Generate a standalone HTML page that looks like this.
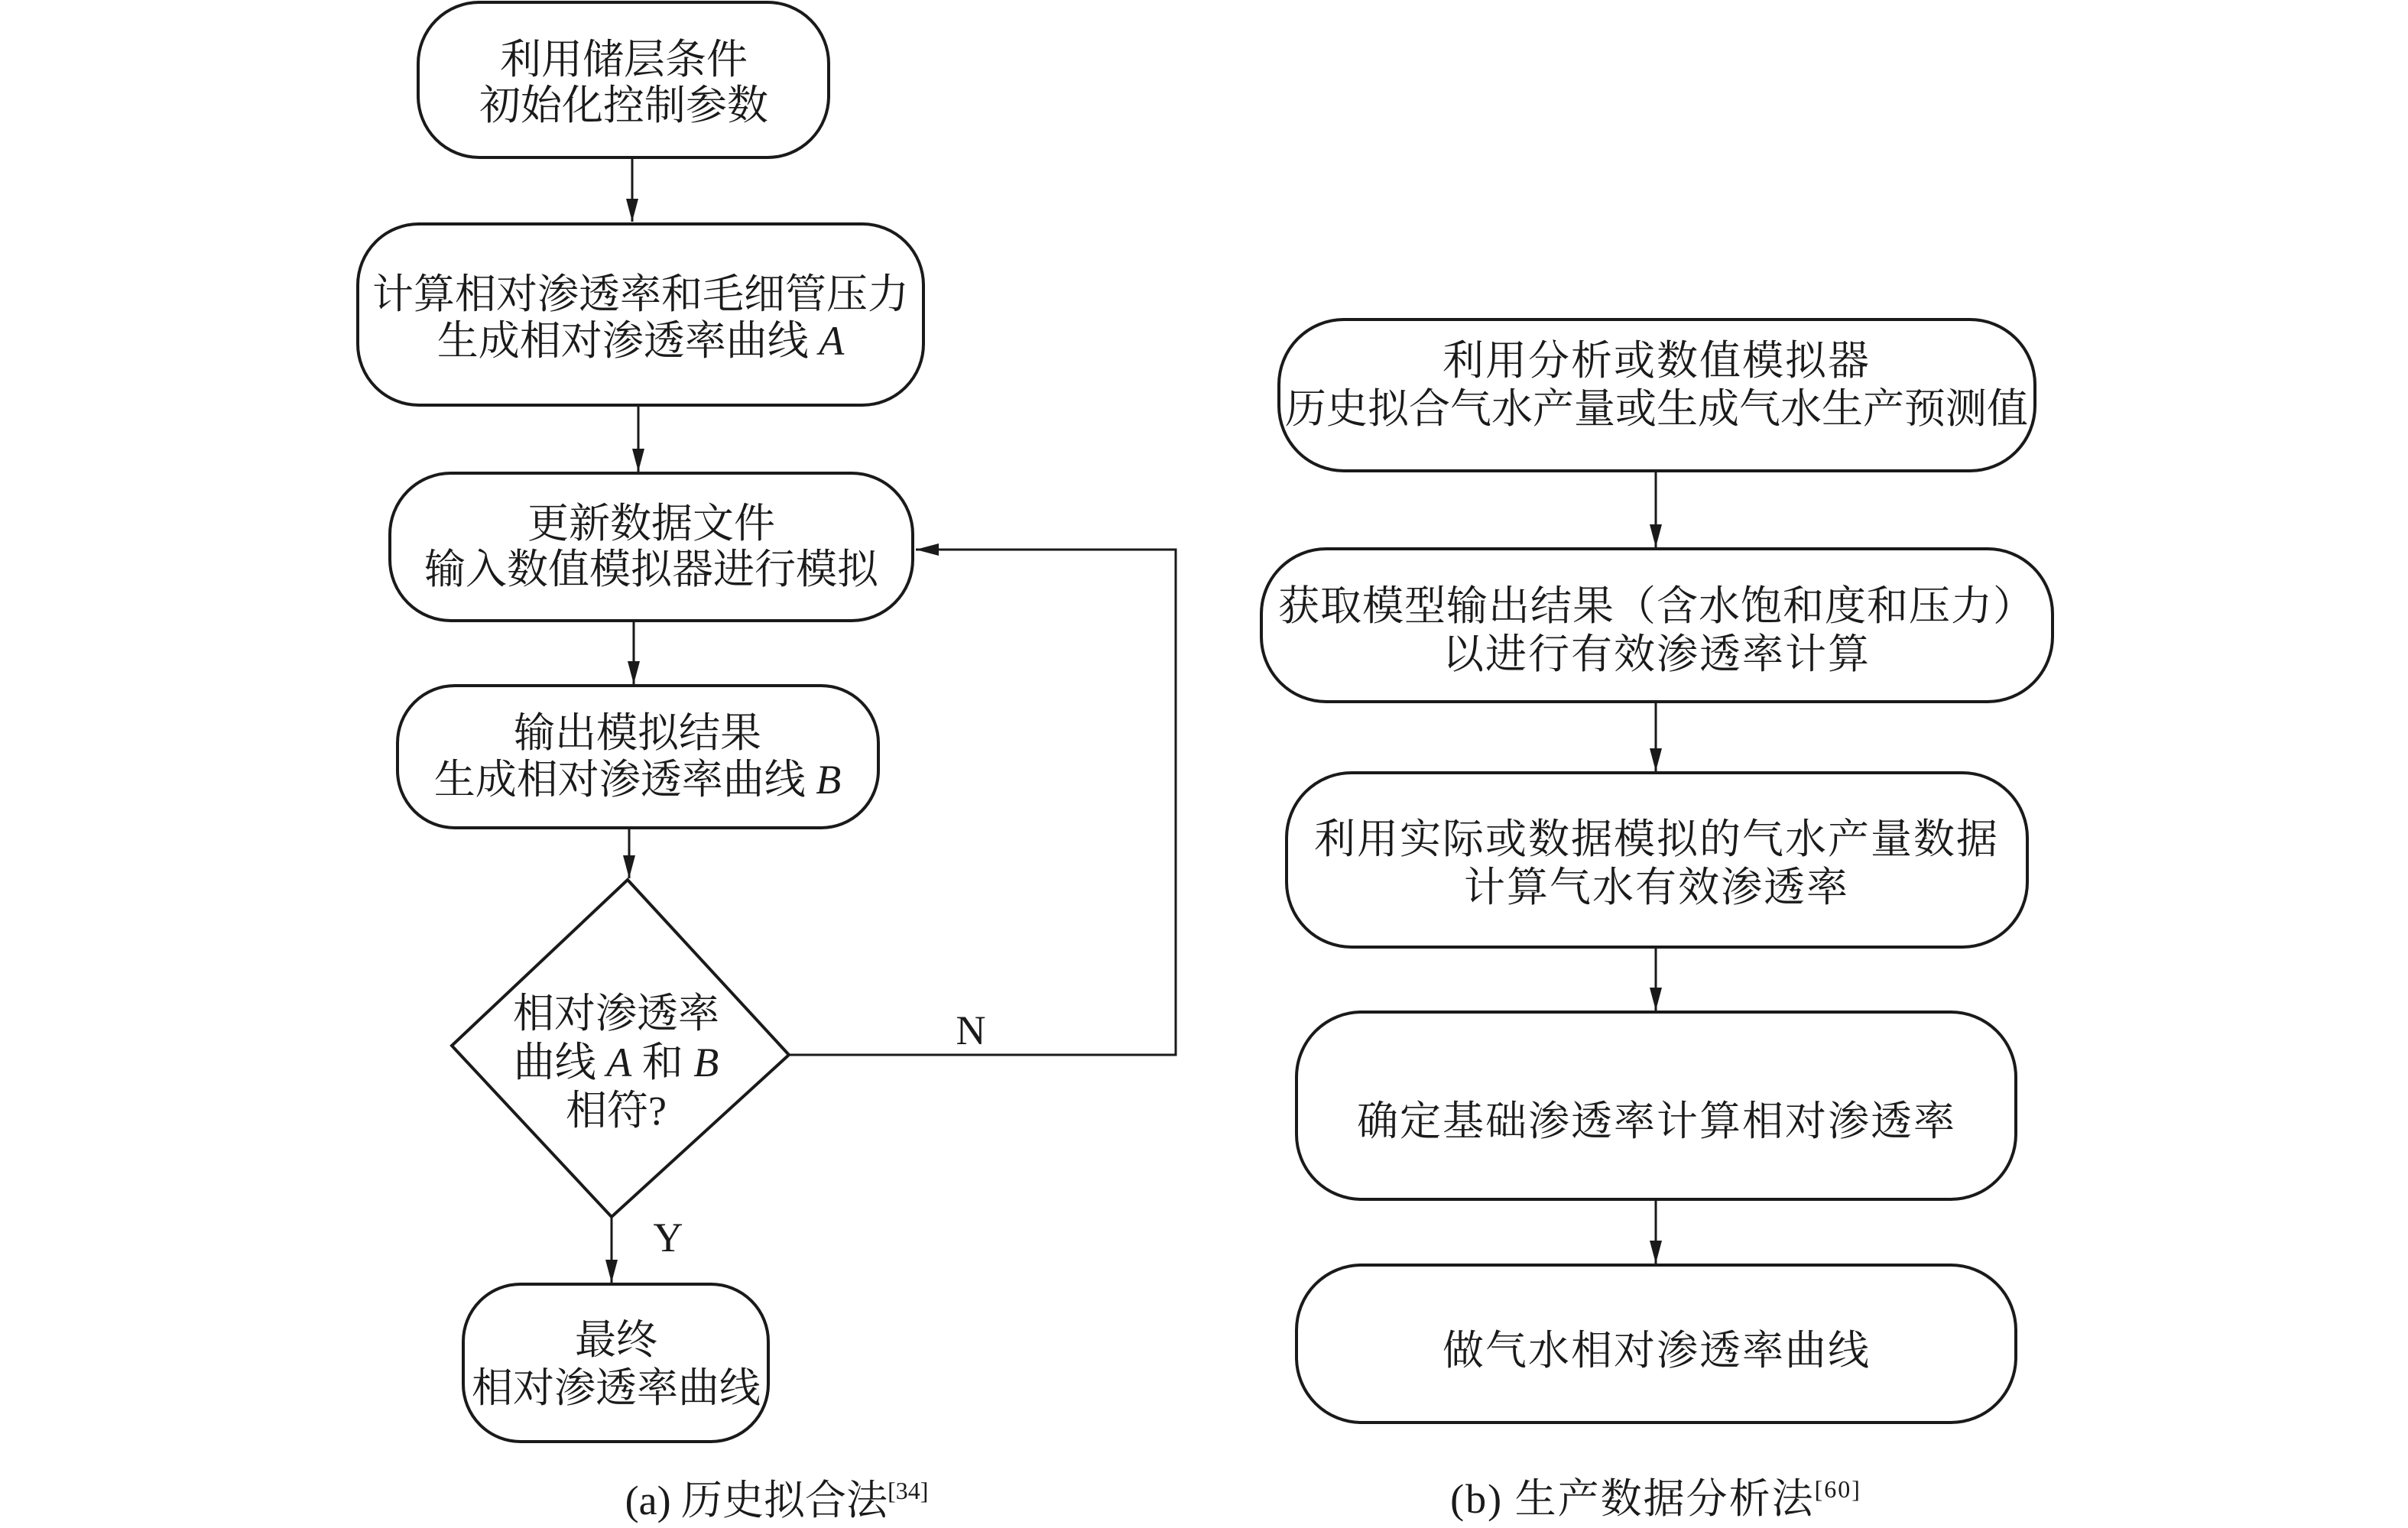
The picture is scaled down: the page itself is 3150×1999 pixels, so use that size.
<!DOCTYPE html>
<html><head><meta charset="utf-8"><style>
html,body{margin:0;padding:0;background:#fff}
svg{display:block}
text{font-family:"Liberation Serif","Noto Serif CJK SC",serif;fill:#1a1a1a;text-anchor:middle}
.l{font-size:54px}
.r{font-size:54px;letter-spacing:2px}
.i{font-style:italic}
</style></head><body>
<svg width="3150" height="1999" viewBox="0 0 3150 1999" xmlns="http://www.w3.org/2000/svg">
<defs>
<marker id="b" viewBox="0 0 30 16" markerWidth="30" markerHeight="16" refX="30" refY="8" orient="auto" markerUnits="userSpaceOnUse"><path d="M0,0 L30,8 L0,16 Z" fill="#1a1a1a"/></marker></defs>
<g fill="none" stroke="#1a1a1a" stroke-width="4">
<rect x="547" y="3" width="537" height="203" rx="80"/>
<rect x="468" y="293" width="740" height="237" rx="80"/>
<rect x="510" y="619" width="684" height="193" rx="80"/>
<rect x="520" y="897" width="629" height="186" rx="75"/>
<path d="M821,1151 L591,1368 L800,1592 L1032,1380 Z"/>
<rect x="606" y="1680" width="399" height="206" rx="75"/>
<rect x="1673" y="418" width="989" height="198" rx="85"/>
<rect x="1650" y="718" width="1035" height="200" rx="85"/>
<rect x="1683" y="1011" width="969" height="228" rx="85"/>
<rect x="1696" y="1324" width="941" height="245" rx="85"/>
<rect x="1696" y="1655" width="941" height="206" rx="85"/>
</g>
<g stroke="#1a1a1a" stroke-width="3" fill="none">
<line x1="827" y1="206" x2="827" y2="290" marker-end="url(#b)"/>
<line x1="835" y1="530" x2="835" y2="617" marker-end="url(#b)"/>
<line x1="829" y1="812" x2="829" y2="895" marker-end="url(#b)"/>
<line x1="823" y1="1083" x2="823" y2="1149" marker-end="url(#b)"/>
<line x1="800" y1="1592" x2="800" y2="1678" marker-end="url(#b)"/>
<polyline points="1032,1380 1538,1380 1538,719 1198,719" marker-end="url(#b)"/>
<line x1="2166" y1="616" x2="2166" y2="716" marker-end="url(#b)"/>
<line x1="2166" y1="918" x2="2166" y2="1009" marker-end="url(#b)"/>
<line x1="2166" y1="1239" x2="2166" y2="1322" marker-end="url(#b)"/>
<line x1="2166" y1="1569" x2="2166" y2="1653" marker-end="url(#b)"/>
</g>
<g class="l">
<text x="816" y="96">利用储层条件</text>
<text x="816" y="156">初始化控制参数</text>
<text x="838" y="403">计算相对渗透率和毛细管压力</text>
<text x="838" y="464">生成相对渗透率曲线 <tspan class="i">A</tspan></text>
<text x="852" y="703">更新数据文件</text>
<text x="852" y="763">输入数值模拟器进行模拟</text>
<text x="834" y="977">输出模拟结果</text>
<text x="834" y="1038">生成相对渗透率曲线 <tspan class="i">B</tspan></text>
<text x="806" y="1344">相对渗透率</text>
<text x="806" y="1408">曲线 <tspan class="i">A</tspan> 和 <tspan class="i">B</tspan></text>
<text x="806" y="1471">相符?</text>
<text x="1270" y="1366">N</text>
<text x="874" y="1637">Y</text>
<text x="806" y="1771">最终</text>
<text x="806" y="1834">相对渗透率曲线</text>
<text x="1016" y="1981">(a) 历史拟合法<tspan font-size="32" dy="-20">[34]</tspan></text>
</g>
<g class="r">
<text x="2167" y="490">利用分析或数值模拟器</text>
<text x="2167" y="553" style="letter-spacing:0px">历史拟合气水产量或生成气水生产预测值</text>
<text x="2167" y="811" style="letter-spacing:1px">获取模型输出结果（含水饱和度和压力）</text>
<text x="2167" y="874">以进行有效渗透率计算</text>
<text x="2167" y="1116">利用实际或数据模拟的气水产量数据</text>
<text x="2167" y="1179">计算气水有效渗透率</text>
<text x="2167" y="1485">确定基础渗透率计算相对渗透率</text>
<text x="2167" y="1785">做气水相对渗透率曲线</text>
<text x="2166" y="1979">(b) 生产数据分析法<tspan font-size="32" dy="-20">[60]</tspan></text>
</g>
</svg>
</body></html>
